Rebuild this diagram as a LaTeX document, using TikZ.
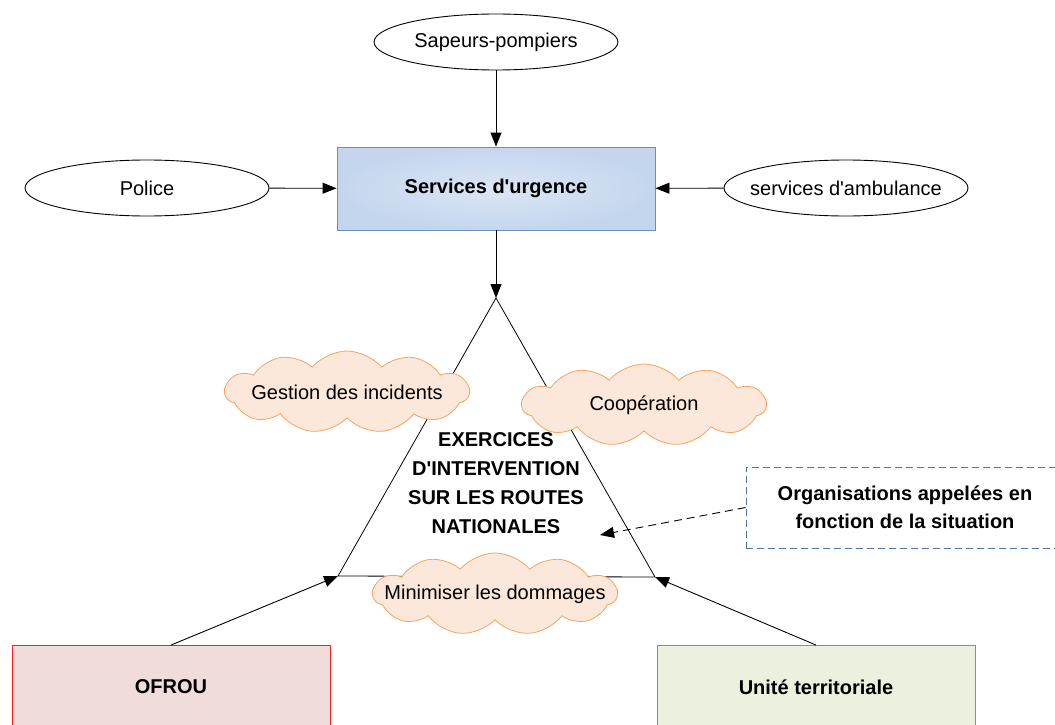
\documentclass[tikz,border=0pt]{standalone}
\usepackage{fontspec}
\setmainfont{Liberation Sans}
\definecolor{urgblue}{RGB}{196,214,238}
\definecolor{urgbluec}{RGB}{220,230,245}
\definecolor{urgedge}{RGB}{108,142,191}
\definecolor{cloudfill}{RGB}{252,232,218}
\definecolor{cloudedge}{RGB}{246,162,96}
\definecolor{ofroufill}{RGB}{240,220,219}
\definecolor{ofrouedge}{RGB}{255,30,30}
\definecolor{utfill}{RGB}{235,241,222}
\definecolor{utedge}{RGB}{40,200,100}
\definecolor{orgedge}{RGB}{80,115,160}
\usetikzlibrary{arrows.meta,positioning,shapes.geometric,shapes.symbols}

\begin{document}
\begin{tikzpicture}[x=1pt,y=-1pt,font=\fontsize{20}{24}\selectfont,line width=0.9pt,
  >={Triangle[length=14pt,width=11pt]},
  acteur/.style={ellipse,draw,fill=white,minimum width=244pt,minimum height=56pt,inner sep=0pt,inner xsep=-40pt},
  bloc/.style={rectangle,minimum width=318pt,minimum height=83pt,inner sep=0pt,font=\fontsize{20}{28}\selectfont\bfseries},
  nuage/.style={cloud,cloud puffs=11,cloud puff arc=100,cloud ignores aspect,draw=cloudedge,fill=cloudfill,
    minimum width=244pt,minimum height=82pt,inner sep=0pt,inner xsep=-50pt,line width=0.8pt}]
  \clip (0,0) rectangle (1055,725);
  % acteurs d'urgence
  \node[acteur] (pompiers) at (496,42) {Sapeurs-pompiers};
  \node[acteur] (police) at (147,188) {Police};
  \node[acteur] (ambulance) at (846,188) {services d\textquotesingle ambulance};
  \node[bloc,draw=urgedge,inner color=urgbluec,outer color=urgblue] (urgence) at (496,188.5) {Services d\textquotesingle urgence};
  % triangle des exercices
  \coordinate (sommet) at (496,298);
  \coordinate (gauche) at (338,576);
  \coordinate (droite) at (655,577);
  \draw[line width=0.8pt] (sommet) -- (gauche) -- (droite) -- cycle;
  \node[nuage] (gestion) at (347,392) {Gestion des incidents};
  \node[nuage] (coop) at (644,405) {Coopération};
  \node[nuage] (dommages) at (495,594) {Minimiser les dommages};
  \node[align=center,font=\fontsize{20}{29}\selectfont\bfseries] (exercices) at (496,483) {EXERCICES\\D\textquotesingle INTERVENTION\\SUR LES ROUTES\\NATIONALES};
  % organisations
  \node[bloc,draw=orgedge,dashed,dash pattern=on 7pt off 4pt,line width=0.8pt,align=center,minimum height=81pt] (orga) at (905,507.5) {Organisations appelées en\\fonction de la situation};
  \node[bloc,draw=ofrouedge,fill=ofroufill] (ofrou) at (171,687) {OFROU};
  \node[bloc,draw=utedge,fill=utfill] (unite) at (816,687) {Unité territoriale};
  \coordinate (cible) at (600,535);
  % fleches
  \draw[->] (pompiers) -- (urgence);
  \draw[->] (police) -- (urgence);
  \draw[->] (ambulance) -- (urgence);
  \draw[->] (urgence) -- (sommet);
  \draw[->] (ofrou.north) -- (gauche);
  \draw[->] (unite.north) -- (droite);
  \draw[->,dash pattern=on 8pt off 5pt] (orga.west) -- (cible);
\end{tikzpicture}
\end{document}
